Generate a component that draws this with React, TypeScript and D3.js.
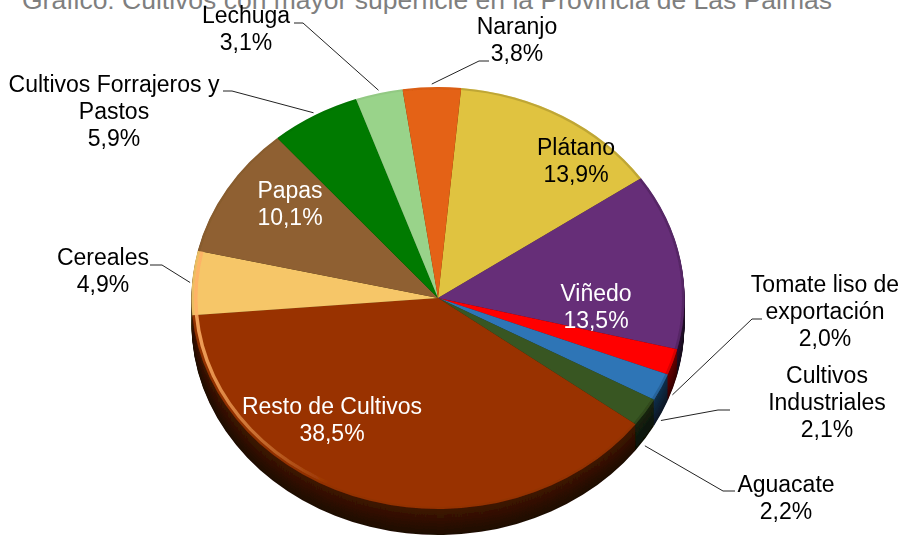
import * as d3 from "d3";

const width = 901;
const height = 535;

const title = "Gráfico: Cultivos con mayor superficie en la Provincia de Las Palmas";
const categories = [
  "Plátano",
  "Viñedo",
  "Tomate liso de exportación",
  "Cultivos Industriales",
  "Aguacate",
  "Resto de Cultivos",
  "Cereales",
  "Papas",
  "Cultivos Forrajeros y Pastos",
  "Lechuga",
  "Naranjo",
];
const values = [13.9, 13.5, 2.0, 2.1, 2.2, 38.5, 4.9, 10.1, 5.9, 3.1, 3.8];
const colors = [
  "#e0c33f",
  "#662e78",
  "#ff0000",
  "#2e75b6",
  "#385723",
  "#993300",
  "#f6c667",
  "#8f6131",
  "#007a00",
  "#99d38a",
  "#e46213",
];

// where each label sits: centre x, first baseline, and the wrapped lines
const labelLayout = [
  { x: 576, y: 155, lines: ["Plátano"], fill: "#000" },
  { x: 596, y: 301, lines: ["Viñedo"], fill: "#fff" },
  { x: 825, y: 292, lines: ["Tomate liso de", "exportación"], fill: "#000" },
  { x: 827, y: 383, lines: ["Cultivos", "Industriales"], fill: "#000" },
  { x: 786, y: 492, lines: ["Aguacate"], fill: "#000" },
  { x: 332, y: 414, lines: ["Resto de Cultivos"], fill: "#fff" },
  { x: 103, y: 265, lines: ["Cereales"], fill: "#000" },
  { x: 290, y: 198, lines: ["Papas"], fill: "#fff" },
  { x: 114, y: 92, lines: ["Cultivos Forrajeros y", "Pastos"], fill: "#000" },
  { x: 246, y: 23, lines: ["Lechuga"], fill: "#000" },
  { x: 517, y: 34, lines: ["Naranjo"], fill: "#000" },
];

// leader lines: label end and elbow, the pie end comes from the slice
const leaders = [
  { name: "Tomate liso de exportación", from: [762, 319], elbow: [752, 319] },
  { name: "Cultivos Industriales", from: [730, 410], elbow: [718, 410] },
  { name: "Aguacate", from: [735, 491], elbow: [723, 491] },
  { name: "Cereales", from: [150, 265], elbow: [162, 265] },
  { name: "Cultivos Forrajeros y Pastos", from: [223, 91], elbow: [232, 91] },
  { name: "Lechuga", from: [294, 23], elbow: [303, 23] },
  { name: "Naranjo", from: [489, 61], elbow: [479, 61] },
];

const cx = 438;
const cy = 298;
const rx = 246.5;
const ry = 211;
const depth = 26;
const startDeg = 5.4;

export default function App() {
  const data = categories.map((name, i) => ({ name, value: values[i], color: colors[i] }));

  const pie = d3
    .pie<(typeof data)[number]>()
    .sort(null)
    .value((d) => d.value)
    .startAngle((startDeg * Math.PI) / 180)
    .endAngle((startDeg * Math.PI) / 180 + 2 * Math.PI);
  const slices = pie(data);

  // the face is a circle of radius rx squashed vertically by the group transform
  const arc = d3.arc<d3.PieArcDatum<(typeof data)[number]>>().innerRadius(0).outerRadius(rx);
  const rimArc = d3
    .arc<d3.PieArcDatum<(typeof data)[number]>>()
    .innerRadius(rx - 2.5)
    .outerRadius(rx);
  const glowArc = d3
    .arc<d3.PieArcDatum<(typeof data)[number]>>()
    .innerRadius(rx - 6)
    .outerRadius(rx - 2.5);
  const squash = `translate(${cx},${cy}) scale(1,${ry / rx})`;

  const wallShade = d3
    .scaleLinear<number>()
    .domain([0, depth])
    .range([0.42, 0.2]);

  const pointOnEdge = (name: string) => {
    const s = slices.find((d) => d.data.name === name)!;
    const mid = (s.startAngle + s.endAngle) / 2;
    const lower = Math.cos(mid) < -0.1;
    return [
      cx + (rx + (lower ? -0.5 : 2)) * Math.sin(mid),
      cy - (ry + 3) * Math.cos(mid) + (lower ? depth + 6 : 0),
    ];
  };

  const layers = d3.range(depth, 0, -1);

  return (
    <svg
      width={width}
      height={height}
      style={{ position: "absolute", left: 0, top: 0, background: "#fff" }}
      fontFamily="'Liberation Sans', Arial, sans-serif"
    >
      <defs>
        <filter id="soft" x="-5%" y="-5%" width="110%" height="110%">
          <feGaussianBlur stdDeviation="0.7" />
        </filter>
        {/* the gradient lives inside the squashed group, so x is relative to the centre */}
        <linearGradient id="leftRim" gradientUnits="userSpaceOnUse" x1={-rx} x2={-110} y1={0} y2={0}>
          <stop offset="0" stopColor="#ffb066" stopOpacity={0.9} />
          <stop offset="1" stopColor="#ffb066" stopOpacity={0} />
        </linearGradient>
      </defs>

      <text x={427} y={9} textAnchor="middle" fontSize={26.5} fill="#7f7f7f">
        {title}
      </text>

      {/* side of the pie, stacked copies of each slice */}
      <g filter="url(#soft)">
        {layers.map((k) => (
          <g key={k} transform={`translate(0,${k})`}>
            {slices.map((s) => {
              const c = d3.rgb(s.data.color);
              const f = wallShade(k);
              return (
                <path
                  key={s.data.name}
                  transform={squash}
                  d={arc(s) ?? ""}
                  fill={d3.rgb(c.r * f, c.g * f, c.b * f).formatHex()}
                />
              );
            })}
          </g>
        ))}

        {/* top face */}
        {slices.map((s) => (
          <path key={s.data.name} transform={squash} d={arc(s) ?? ""} fill={s.data.color} />
        ))}
        {slices.map((s) => (
          <path
            key={s.data.name}
            transform={squash}
            d={rimArc(s) ?? ""}
            fill={d3.rgb(s.data.color).darker(1).formatHex()}
            opacity={Math.sin((s.startAngle + s.endAngle) / 2) > 0 ? 0.5 : 0.15}
          />
        ))}
        {slices
          .filter((s) => s.data.name === "Resto de Cultivos" || s.data.name === "Cereales")
          .map((s) => (
            <path key={s.data.name} transform={squash} d={glowArc(s) ?? ""} fill="url(#leftRim)" />
          ))}
      </g>

      {/* leaders */}
      {leaders.map((l) => (
        <polyline
          key={l.name}
          points={[l.from, l.elbow, pointOnEdge(l.name)].map((p) => p.join(",")).join(" ")}
          fill="none"
          stroke="#222"
          strokeWidth={1}
        />
      ))}

      {/* labels */}
      {labelLayout.map((l, i) => (
        <text key={i} textAnchor="middle" fontSize={23} fill={l.fill}>
          {l.lines.map((line, j) => (
            <tspan key={j} x={l.x} y={l.y + j * 26.8}>
              {line}
            </tspan>
          ))}
          <tspan x={l.x} y={l.y + l.lines.length * 26.8}>
            {d3.format(".1f")(values[i]).replace(".", ",")}%
          </tspan>
        </text>
      ))}
    </svg>
  );
}
